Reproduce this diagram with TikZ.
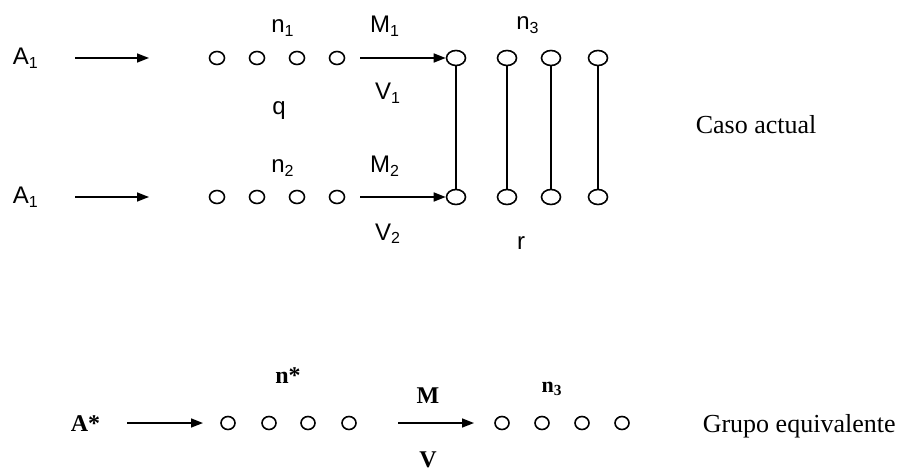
\documentclass[tikz,border=0pt]{standalone}
\usepackage{fontspec}
\setmainfont{Liberation Serif}
\newfontfamily\arialf{Liberation Sans}
\usetikzlibrary{shapes.geometric,arrows.meta}
\begin{document}
\begin{tikzpicture}[x=0.5pt,y=-0.5pt,
  line width=0.8pt,
  sm/.style={ellipse,draw,line width=0.8pt,inner sep=0pt,minimum width=7.5pt,minimum height=6.5pt},
  bg/.style={ellipse,draw,line width=0.8pt,inner sep=0pt,minimum width=9.5pt,minimum height=7.5pt},
  bt/.style={ellipse,draw,line width=0.8pt,inner sep=0pt,minimum width=7pt,minimum height=6.5pt},
  arr/.style={-{Triangle[length=6pt,width=4.5pt]},line width=0.8pt},
  lab/.style={anchor=base,inner sep=0pt,font=\arialf\fontsize{12}{14}\selectfont},
  tlab/.style={anchor=base west,inner sep=0pt,font=\fontsize{13}{15}\selectfont},
  blab/.style={anchor=base,inner sep=0pt,font=\bfseries\fontsize{12}{14}\selectfont}]
\useasboundingbox (0,0) rectangle (903,470);
% ---------- Caso actual ----------
\node[lab,anchor=base west] (a1) at (12,65) {A\textsubscript{1}};
\node[lab,anchor=base west] (a2) at (12,204) {A\textsubscript{1}};
\coordinate (p1s) at (75,58);  \coordinate (p1e) at (149,58);
\coordinate (p2s) at (75,197); \coordinate (p2e) at (149,197);
\draw[arr] (p1s) -- (p1e);
\draw[arr] (p2s) -- (p2e);
\foreach \i/\x in {1/217,2/257,3/297,4/337}{
  \node[sm] (u\i) at (\x,58) {};
  \node[sm] (d\i) at (\x,197) {};
}
\foreach \i/\x in {1/456,2/507,3/551,4/598}{
  \node[bg] (t\i) at (\x,58) {};
  \node[bg] (b\i) at (\x,197) {};
  \draw (t\i) -- (b\i);
}
\coordinate (m1s) at (360,58);  \coordinate (m2s) at (360,197);
\draw[arr] (m1s) -- (t1);
\draw[arr] (m2s) -- (b1);
\node[lab] (n1) at (283,33) {n\textsubscript{1}};
\node[lab] (q) at (279,115) {q};
\node[lab] (n2) at (283,173) {n\textsubscript{2}};
\node[lab] (M1) at (385,33) {M\textsubscript{1}};
\node[lab] (V1) at (388,100) {V\textsubscript{1}};
\node[lab] (M2) at (385,173) {M\textsubscript{2}};
\node[lab] (V2) at (388,240) {V\textsubscript{2}};
\node[lab] (n3) at (528,30) {n\textsubscript{3}};
\node[lab] (r) at (521,249) {r};
\node[tlab] (caso) at (695,134) {Caso actual};
% ---------- Grupo equivalente ----------
\node[blab,anchor=base west] (as) at (70,431) {A*};
\coordinate (q1s) at (127,423); \coordinate (q1e) at (203,423);
\draw[arr] (q1s) -- (q1e);
\foreach \i/\x in {1/228,2/269,3/308,4/349}{
  \node[bt] (e\i) at (\x,423) {};
}
\foreach \i/\x in {1/502,2/542,3/582,4/622}{
  \node[bt] (f\i) at (\x,423) {};
}
\coordinate (q2s) at (398,423); \coordinate (q2e) at (474,423);
\draw[arr] (q2s) -- (q2e);
\node[blab] (ns) at (288,383) {n*};
\node[blab] (M) at (428,403) {M};
\node[blab] (V) at (428,467) {V};
\node[blab,font=\bfseries\fontsize{11}{13}\selectfont] (n3b) at (552,392) {n\textsubscript{3}};
\node[tlab] (grupo) at (702,432) {Grupo equivalente};
\end{tikzpicture}
\end{document}
